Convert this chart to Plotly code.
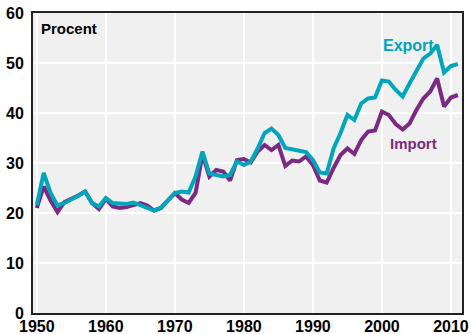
import plotly.graph_objects as go

# ----------------------------------------
# DATOS (procent av BNP)
# ----------------------------------------
years = list(range(1950, 2012))

export = [21.6, 28.0, 24.0, 21.5, 22.0, 22.6, 23.4, 24.3, 22.0, 21.3,
          23.0, 22.0, 21.8, 21.8, 22.1, 21.6, 21.2, 20.5, 21.1, 22.6,
          24.0, 24.3, 24.1, 27.3, 32.3, 27.9, 27.6, 27.3, 27.6, 30.3,
          29.6, 30.3, 32.9, 36.0, 36.9, 35.6, 33.0, 32.7, 32.4, 32.2,
          30.6, 28.1, 27.9, 32.9, 36.0, 39.6, 38.6, 41.9, 42.9, 43.1,
          46.5, 46.3, 44.6, 43.3, 45.9, 48.6, 50.9, 51.9, 53.6, 48.1,
          49.4, 49.8]

imports = [21.0, 25.3, 22.5, 20.2, 22.2, 22.8, 23.5, 24.3, 22.0, 20.8,
           22.8, 21.3, 21.0, 21.2, 21.5, 22.0, 21.5, 20.5, 21.0, 22.5,
           24.0, 22.7, 22.0, 24.0, 31.7, 27.3, 28.6, 28.3, 26.5, 30.6,
           30.8, 30.1, 32.3, 33.6, 32.6, 33.6, 29.4, 30.5, 30.3, 31.3,
           29.6, 26.5, 26.1, 29.0, 31.6, 32.9, 31.8, 34.6, 36.3, 36.5,
           40.3, 39.6, 37.8, 36.7, 37.9, 40.6, 42.9, 44.3, 46.9, 41.3,
           43.1, 43.6]

x_ticks = [1950, 1960, 1970, 1980, 1990, 2000, 2010]
y_ticks = [0, 10, 20, 30, 40, 50, 60]

TEAL = '#00a6bb'
PURPLE = '#7b2a83'
FONT = 'Liberation Sans, Arial, sans-serif'

fig = go.Figure()

fig.add_trace(go.Scatter(x=years, y=imports, mode='lines', name='Import',
                         line=dict(color=PURPLE, width=4), showlegend=False))
fig.add_trace(go.Scatter(x=years, y=export, mode='lines', name='Export',
                         line=dict(color=TEAL, width=4), showlegend=False))

# etiquetas de series
fig.add_annotation(x=2003.9, y=53.6, text='Export', showarrow=False,
                   font=dict(family=FONT, size=16, color=TEAL, weight='bold'))
fig.add_annotation(x=2004.6, y=34.0, text='Import', showarrow=False,
                   font=dict(family=FONT, size=15, color=PURPLE, weight='bold'))
fig.add_annotation(x=0.015, y=0.985, xref='paper', yref='paper', text='Procent',
                   showarrow=False, xanchor='left', yanchor='top',
                   font=dict(family=FONT, size=15, color='black', weight='bold'))

fig.update_xaxes(range=[1949.45, 2011.6], tickvals=x_ticks, automargin=False,
                 showgrid=True, gridcolor='white', gridwidth=1.5,
                 showline=True, linecolor='#222', linewidth=2, mirror=True,
                 zeroline=False, ticks='', ticklabelstandoff=-2,
                 tickfont=dict(family=FONT, size=16, color='black', weight='bold'))
fig.update_yaxes(range=[0, 60], tickvals=y_ticks, automargin=False,
                 showgrid=True, gridcolor='white', gridwidth=1.5,
                 showline=True, linecolor='#222', linewidth=2, mirror=True,
                 zeroline=False, ticks='', ticklabelstandoff=4,
                 tickfont=dict(family=FONT, size=16, color='black', weight='bold'))

fig.update_layout(
    width=471, height=334,
    plot_bgcolor='#f0f0f0', paper_bgcolor='white',
    margin=dict(l=33, r=9, t=13, b=21),
)

# quitar el margen por defecto del body para que la figura quede en (0,0)
fig.write_html('out.html', config={'displayModeBar': False},
               post_script="document.body.style.margin='0px';")
